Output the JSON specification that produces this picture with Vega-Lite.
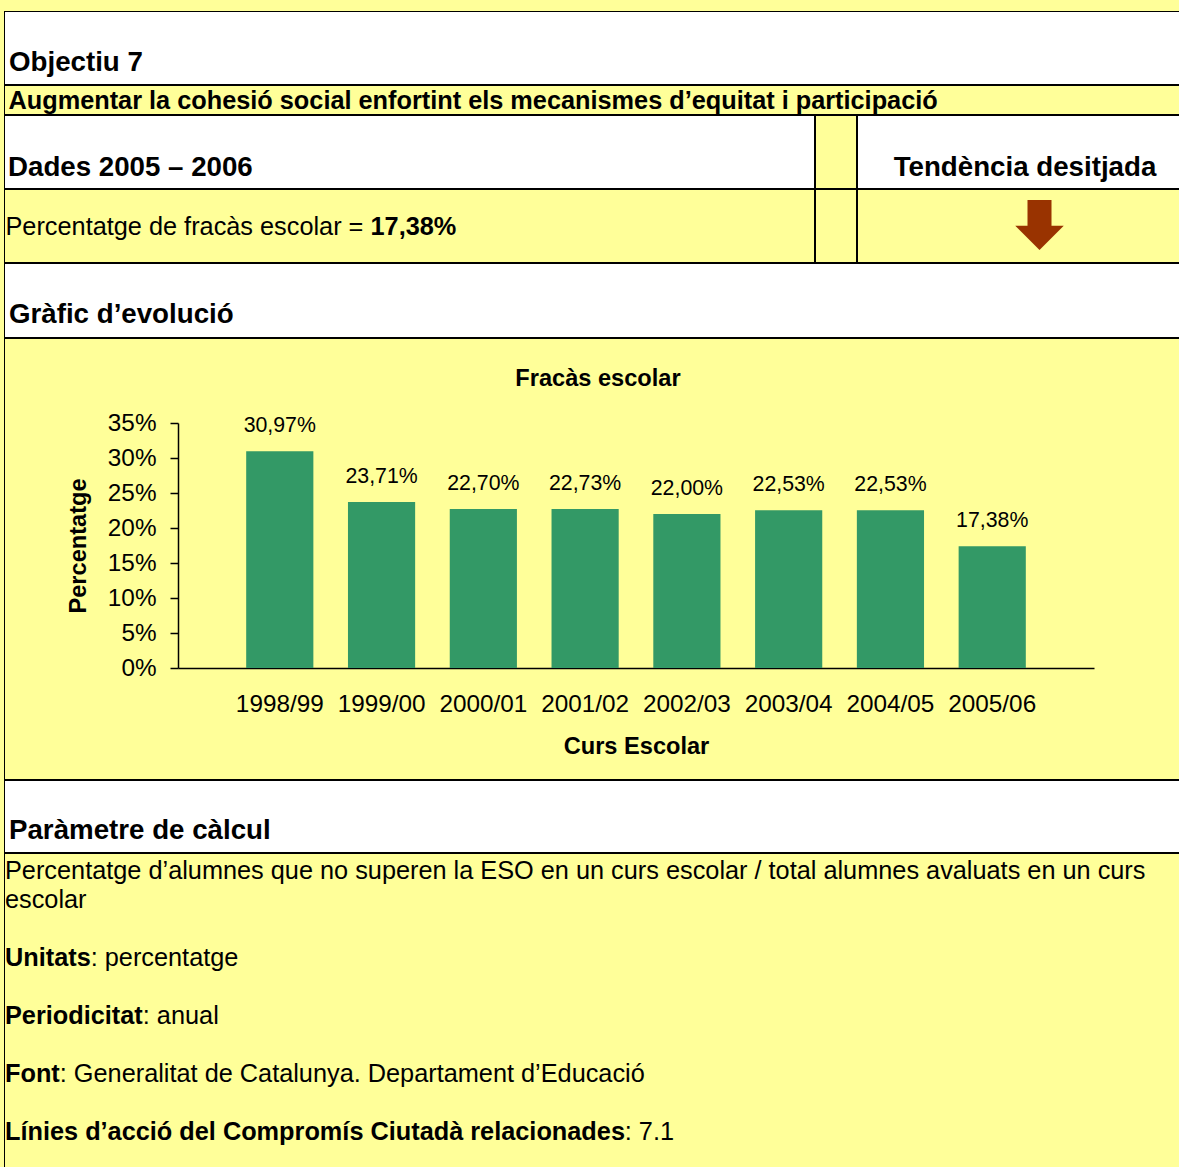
{
  "$schema": "https://vega.github.io/schema/vega-lite/v6.json",
  "background": "#FFFF99",
  "padding": {"left": 4, "top": 11, "right": -2, "bottom": -6},
  "spacing": 0,
  "bounds": "full",
  "config": {
    "font": "Liberation Sans",
    "locale": {"number": {"decimal": ",", "thousands": ".", "grouping": [3], "currency": ["", " €"]}},
    "view": {"stroke": null},
    "text": {"color": "#000000", "font": "Liberation Sans"},
    "axis": {"domainColor": "#000000", "tickColor": "#000000", "labelColor": "#000000", "titleColor": "#000000", "grid": false, "labelFont": "Liberation Sans", "titleFont": "Liberation Sans"},
    "title": {"font": "Liberation Sans", "color": "#000000"}
  },
  "vconcat": [
    {
      "width": 1177, "height": 74,
      "view": {"fill": "#FFFFFF"},
      "layer": [
        {"data": {"values": [{}]}, "mark": {"type": "rect", "filled": false, "color": "#000000", "strokeWidth": 2, "clip": true}, "encoding": {"x": {"value": 0}, "x2": {"value": "width"}, "y": {"value": 0}, "y2": {"value": "height"}}},
        {
          "data": {"values": [{"text": "Objectiu 7"}]},
          "mark": {"type": "text", "align": "left", "baseline": "alphabetic", "fontSize": 27.7, "fontWeight": "bold", "dx": 5, "dy": -14},
          "encoding": {
            "x": {"datum": 0, "type": "quantitative", "scale": {"domain": [0, 1]}, "axis": null},
            "y": {"datum": 0, "type": "quantitative", "scale": {"domain": [0, 1]}, "axis": null},
            "text": {"field": "text"}
          }
        }
      ]
    },
    {
      "width": 1177, "height": 30,
      "view": {"fill": "#FFFF99"},
      "layer": [
        {"data": {"values": [{}]}, "mark": {"type": "rect", "filled": false, "color": "#000000", "strokeWidth": 2, "clip": true}, "encoding": {"x": {"value": 0}, "x2": {"value": "width"}, "y": {"value": 0}, "y2": {"value": "height"}}},
        {
          "data": {"values": [{"text": "Augmentar la cohesió social enfortint els mecanismes d’equitat i participació"}]},
          "mark": {"type": "text", "align": "left", "baseline": "alphabetic", "fontSize": 25.3, "fontWeight": "bold", "dx": 4.5, "dy": -6.5},
          "encoding": {
            "x": {"datum": 0, "type": "quantitative", "scale": {"domain": [0, 1]}, "axis": null},
            "y": {"datum": 0, "type": "quantitative", "scale": {"domain": [0, 1]}, "axis": null},
            "text": {"field": "text"}
          }
        }
      ]
    },
    {
      "spacing": 0,
      "bounds": "full",
      "hconcat": [
        {
          "width": 811, "height": 74,
          "view": {"fill": "#FFFFFF"},
          "layer": [
            {"data": {"values": [{}]}, "mark": {"type": "rect", "filled": false, "color": "#000000", "strokeWidth": 2, "clip": true}, "encoding": {"x": {"value": 0}, "x2": {"value": "width"}, "y": {"value": 0}, "y2": {"value": "height"}}},
            {
              "data": {"values": [{"text": "Dades 2005 – 2006"}]},
              "mark": {"type": "text", "align": "left", "baseline": "alphabetic", "fontSize": 27.7, "fontWeight": "bold", "dx": 4, "dy": -13},
              "encoding": {
                "x": {"datum": 0, "type": "quantitative", "scale": {"domain": [0, 1]}, "axis": null},
                "y": {"datum": 0, "type": "quantitative", "scale": {"domain": [0, 1]}, "axis": null},
                "text": {"field": "text"}
              }
            }
          ]
        },
        {
          "width": 42, "height": 74,
          "view": {"fill": "#FFFF99"},
          "layer": [
            {"data": {"values": [{}]}, "mark": {"type": "rect", "filled": false, "color": "#000000", "strokeWidth": 2, "clip": true}, "encoding": {"x": {"value": 0}, "x2": {"value": "width"}, "y": {"value": 0}, "y2": {"value": "height"}}}
          ]
        },
        {
          "width": 324, "height": 74,
          "view": {"fill": "#FFFFFF"},
          "layer": [
            {"data": {"values": [{}]}, "mark": {"type": "rect", "filled": false, "color": "#000000", "strokeWidth": 2, "clip": true}, "encoding": {"x": {"value": 0}, "x2": {"value": "width"}, "y": {"value": 0}, "y2": {"value": "height"}}},
            {
              "data": {"values": [{"text": "Tendència desitjada"}]},
              "mark": {"type": "text", "align": "center", "baseline": "alphabetic", "fontSize": 27.7, "fontWeight": "bold", "dx": 6, "dy": -13},
              "encoding": {
                "x": {"datum": 0.5, "type": "quantitative", "scale": {"domain": [0, 1]}, "axis": null},
                "y": {"datum": 0, "type": "quantitative", "scale": {"domain": [0, 1]}, "axis": null},
                "text": {"field": "text"}
              }
            }
          ]
        }
      ]
    },
    {
      "spacing": 0,
      "bounds": "full",
      "hconcat": [
        {
          "width": 811, "height": 74,
          "view": {"fill": "#FFFF99"},
          "layer": [
            {"data": {"values": [{}]}, "mark": {"type": "rect", "filled": false, "color": "#000000", "strokeWidth": 2, "clip": true}, "encoding": {"x": {"value": 0}, "x2": {"value": "width"}, "y": {"value": 0}, "y2": {"value": "height"}}},
            {
              "data": {"values": [{"indicador": "Percentatge de fracàs escolar = ", "valor": 0.1738}]},
              "encoding": {
                "x": {"datum": 0, "type": "quantitative", "scale": {"domain": [0, 1]}, "axis": null},
                "y": {"datum": 0, "type": "quantitative", "scale": {"domain": [0, 1]}, "axis": null}
              },
              "layer": [
                {
                  "mark": {"type": "text", "align": "left", "baseline": "alphabetic", "fontSize": 25.3, "dx": 1.5, "dy": -28},
                  "encoding": {"text": {"field": "indicador"}}
                },
                {
                  "mark": {"type": "text", "align": "left", "baseline": "alphabetic", "fontSize": 25.3, "fontWeight": "bold", "dx": 366.5, "dy": -28},
                  "encoding": {"text": {"field": "valor", "type": "quantitative", "format": ".2%"}}
                }
              ]
            }
          ]
        },
        {
          "width": 42, "height": 74,
          "view": {"fill": "#FFFF99"},
          "layer": [
            {"data": {"values": [{}]}, "mark": {"type": "rect", "filled": false, "color": "#000000", "strokeWidth": 2, "clip": true}, "encoding": {"x": {"value": 0}, "x2": {"value": "width"}, "y": {"value": 0}, "y2": {"value": "height"}}}
          ]
        },
        {
          "width": 324, "height": 74,
          "view": {"fill": "#FFFF99"},
          "layer": [
            {"data": {"values": [{}]}, "mark": {"type": "rect", "filled": false, "color": "#000000", "strokeWidth": 2, "clip": true}, "encoding": {"x": {"value": 0}, "x2": {"value": "width"}, "y": {"value": 0}, "y2": {"value": "height"}}},
            {
              "data": {"values": [{"tendencia": "descendent"}]},
              "mark": {"type": "point", "shape": "M0.34,-1.04L1.30,-1.04L1.30,-0.01L1.79,-0.01L0.82,0.96L-0.15,-0.01L0.34,-0.01Z", "size": 2500, "filled": true, "color": "#993300", "opacity": 1, "strokeWidth": 0},
              "encoding": {
                "x": {"datum": 0.5, "type": "quantitative", "scale": {"domain": [0, 1]}, "axis": null},
                "y": {"datum": 0.5, "type": "quantitative", "scale": {"domain": [0, 1]}, "axis": null}
              }
            }
          ]
        }
      ]
    },
    {
      "width": 1177, "height": 75,
      "view": {"fill": "#FFFFFF"},
      "layer": [
        {"data": {"values": [{}]}, "mark": {"type": "rect", "filled": false, "color": "#000000", "strokeWidth": 2, "clip": true}, "encoding": {"x": {"value": 0}, "x2": {"value": "width"}, "y": {"value": 0}, "y2": {"value": "height"}}},
        {
          "data": {"values": [{"text": "Gràfic d’evolució"}]},
          "mark": {"type": "text", "align": "left", "baseline": "alphabetic", "fontSize": 27.7, "fontWeight": "bold", "dx": 5, "dy": -15},
          "encoding": {
            "x": {"datum": 0, "type": "quantitative", "scale": {"domain": [0, 1]}, "axis": null},
            "y": {"datum": 0, "type": "quantitative", "scale": {"domain": [0, 1]}, "axis": null},
            "text": {"field": "text"}
          }
        }
      ]
    },
    {
      "width": 1177, "height": 442,
      "view": {"fill": "#FFFF99"},
      "title": {"text": "Fracàs escolar", "fontSize": 23.6, "fontWeight": "bold", "anchor": "middle", "frame": "group", "offset": -53, "dx": 5.5},
      "layer": [
        {"data": {"values": [{}]}, "mark": {"type": "rect", "filled": false, "color": "#000000", "strokeWidth": 2, "clip": true}, "encoding": {"x": {"value": 0}, "x2": {"value": "width"}, "y": {"value": 0}, "y2": {"value": "height"}}},
        {
          "data": {"values": [
            {"curs": "1998/99", "pct": 0.3097},
            {"curs": "1999/00", "pct": 0.2371},
            {"curs": "2000/01", "pct": 0.2270},
            {"curs": "2001/02", "pct": 0.2273},
            {"curs": "2002/03", "pct": 0.2200},
            {"curs": "2003/04", "pct": 0.2253},
            {"curs": "2004/05", "pct": 0.2253},
            {"curs": "2005/06", "pct": 0.1738}
          ]},
          "encoding": {
            "x": {
              "field": "curs", "type": "nominal", "sort": null,
              "scale": {"range": [174, 1090], "paddingInner": 0.34, "paddingOuter": 0.67},
              "axis": {"offset": -112, "labelAngle": 0, "ticks": false, "labelPadding": 24, "labelFontSize": 24.3, "title": "Curs Escolar", "titleFontSize": 23.6, "titleFontWeight": "bold", "titlePadding": 18, "domainWidth": 1.5}
            },
            "y": {
              "field": "pct", "type": "quantitative",
              "scale": {"domain": [0, 0.35], "range": [330, 85], "nice": false},
              "axis": {"offset": -174, "values": [0, 0.05, 0.1, 0.15, 0.2, 0.25, 0.3, 0.35], "format": ".0%", "labelFontSize": 24.3, "tickSize": 8, "labelPadding": 14, "title": "Percentatge", "titleFontSize": 23.6, "titleFontWeight": "bold", "titlePadding": 17, "domainWidth": 1.5, "tickWidth": 1.5}
            }
          },
          "layer": [
            {"mark": {"type": "bar", "color": "#339966"}},
            {
              "mark": {"type": "text", "align": "center", "baseline": "alphabetic", "fontSize": 21.3, "dy": -19},
              "encoding": {"text": {"field": "pct", "type": "quantitative", "format": ".2%"}}
            }
          ]
        }
      ]
    },
    {
      "width": 1177, "height": 73,
      "view": {"fill": "#FFFFFF"},
      "layer": [
        {"data": {"values": [{}]}, "mark": {"type": "rect", "filled": false, "color": "#000000", "strokeWidth": 2, "clip": true}, "encoding": {"x": {"value": 0}, "x2": {"value": "width"}, "y": {"value": 0}, "y2": {"value": "height"}}},
        {
          "data": {"values": [{"text": "Paràmetre de càlcul"}]},
          "mark": {"type": "text", "align": "left", "baseline": "alphabetic", "fontSize": 27.7, "fontWeight": "bold", "dx": 5, "dy": -14},
          "encoding": {
            "x": {"datum": 0, "type": "quantitative", "scale": {"domain": [0, 1]}, "axis": null},
            "y": {"datum": 0, "type": "quantitative", "scale": {"domain": [0, 1]}, "axis": null},
            "text": {"field": "text"}
          }
        }
      ]
    },
    {
      "width": 1177, "height": 320,
      "view": {"fill": "#FFFF99"},
      "layer": [
        {"data": {"values": [{}]}, "mark": {"type": "rect", "filled": false, "color": "#000000", "strokeWidth": 2, "clip": true}, "encoding": {"x": {"value": 0}, "x2": {"value": "width"}, "y": {"value": 0}, "y2": {"value": "height"}}},
        {
          "data": {"values": [
            {"line": 0, "label": "", "text": "Percentatge d’alumnes que no superen la ESO en un curs escolar / total alumnes avaluats en un curs"},
            {"line": 1, "label": "", "text": "escolar"},
            {"line": 3, "label": "Unitats", "text": ": percentatge"},
            {"line": 5, "label": "Periodicitat", "text": ": anual"},
            {"line": 7, "label": "Font", "text": ": Generalitat de Catalunya. Departament d’Educació"},
            {"line": 9, "label": "Línies d’acció del Compromís Ciutadà relacionades", "text": ": 7.1"}
          ]},
          "encoding": {
            "x": {"datum": 0, "type": "quantitative", "scale": {"domain": [0, 1]}, "axis": null},
            "y": {"field": "line", "type": "quantitative", "scale": {"domain": [0, 11.0345], "reverse": true, "nice": false, "zero": false}, "axis": null}
          },
          "layer": [
            {
              "transform": [{"filter": "datum.label == ''"}],
              "mark": {"type": "text", "align": "left", "baseline": "alphabetic", "fontSize": 25.3, "dx": 1, "dy": 26},
              "encoding": {"text": {"field": "text"}}
            },
            {
              "transform": [{"filter": "datum.label != ''"}],
              "mark": {"type": "text", "align": "left", "baseline": "alphabetic", "fontSize": 25.3, "fontWeight": "bold", "dx": 1, "dy": 26},
              "encoding": {"text": {"field": "label"}}
            },
            {
              "transform": [{"filter": "datum.line == 3"}],
              "mark": {"type": "text", "align": "left", "baseline": "alphabetic", "fontSize": 25.3, "dx": 86.7, "dy": 26},
              "encoding": {"text": {"field": "text"}}
            },
            {
              "transform": [{"filter": "datum.line == 5"}],
              "mark": {"type": "text", "align": "left", "baseline": "alphabetic", "fontSize": 25.3, "dx": 138.8, "dy": 26},
              "encoding": {"text": {"field": "text"}}
            },
            {
              "transform": [{"filter": "datum.line == 7"}],
              "mark": {"type": "text", "align": "left", "baseline": "alphabetic", "fontSize": 25.3, "dx": 55.8, "dy": 26},
              "encoding": {"text": {"field": "text"}}
            },
            {
              "transform": [{"filter": "datum.line == 9"}],
              "mark": {"type": "text", "align": "left", "baseline": "alphabetic", "fontSize": 25.3, "dx": 620.8, "dy": 26},
              "encoding": {"text": {"field": "text"}}
            }
          ]
        }
      ]
    }
  ]
}
